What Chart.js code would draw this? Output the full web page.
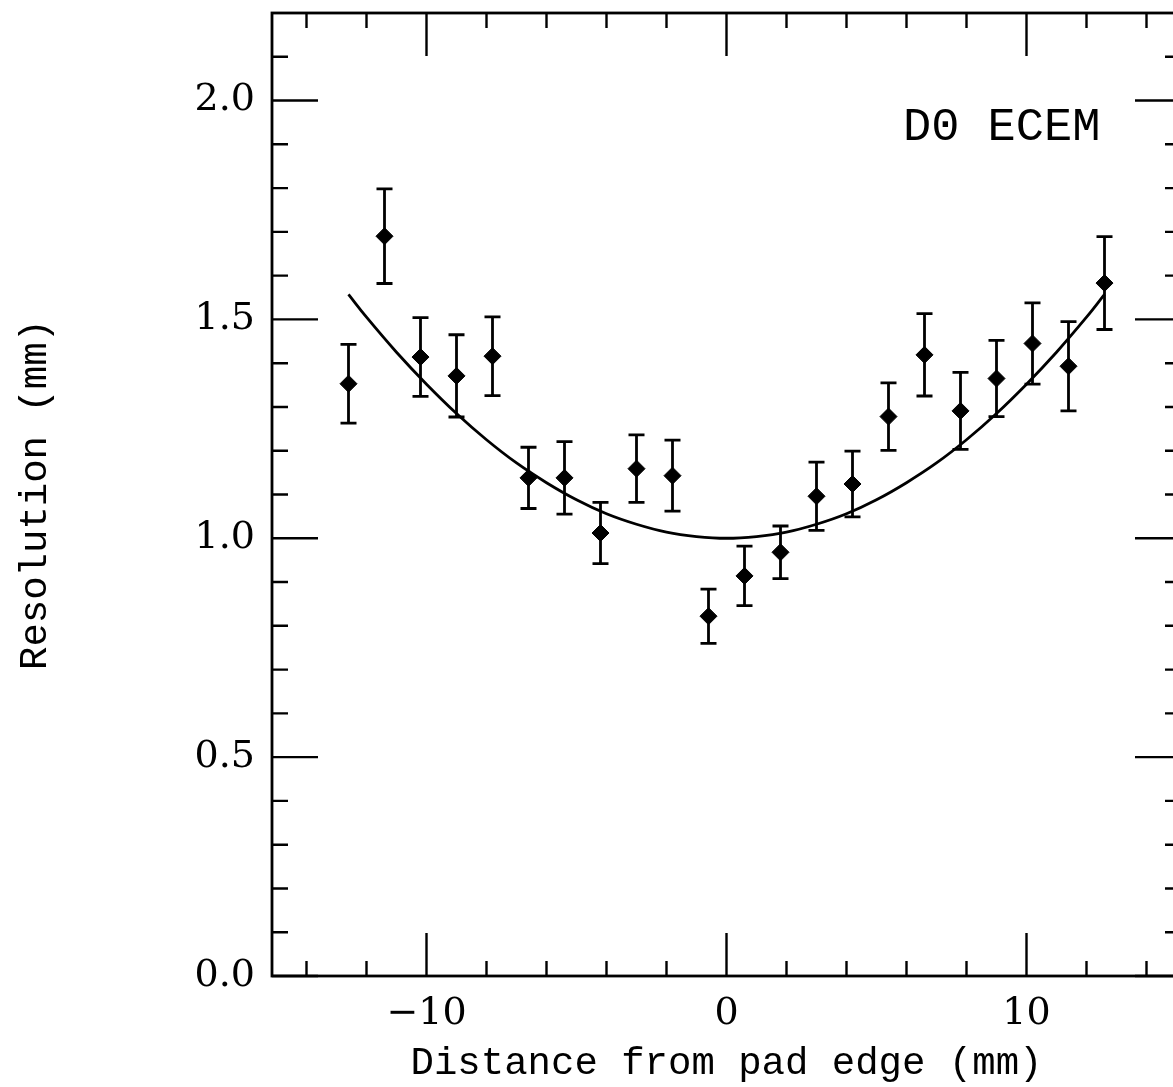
<!DOCTYPE html>
<html>
<head>
<meta charset="utf-8">
<script src="https://cdn.jsdelivr.net/npm/chart.js@4.4.0/dist/chart.umd.min.js"></script>
<style>
html,body{margin:0;padding:0;overflow:hidden;background:#fff;}
canvas{display:block;}
</style>
</head>
<body>
<canvas id="c" width="1200" height="1087"></canvas>
<script>
// ---- data ----
const distance = [-12.6,-11.4,-10.2,-9.0,-7.8,-6.6,-5.4,-4.2,-3.0,-1.8,-0.6,0.6,1.8,3.0,4.2,5.4,6.6,7.8,9.0,10.2,11.4,12.6];
const resolution = [1.353,1.690,1.414,1.371,1.416,1.138,1.138,1.012,1.159,1.143,0.822,0.914,0.968,1.096,1.124,1.278,1.419,1.291,1.365,1.445,1.393,1.583];
const resolutionErr = [0.090,0.108,0.090,0.094,0.090,0.070,0.083,0.070,0.077,0.081,0.062,0.068,0.060,0.078,0.075,0.077,0.094,0.088,0.087,0.093,0.102,0.106];

const fitX = [-12.6,-12,-11,-10,-9,-8,-7,-6,-5,-4,-3,-2,-1,0,1,2,3,4,5,6,7,8,9,10,11,12,12.6];
const fitY = [1.557,1.505,1.425,1.352,1.285,1.225,1.172,1.127,1.088,1.056,1.032,1.014,1.004,1.000,1.004,1.014,1.032,1.056,1.088,1.127,1.172,1.225,1.285,1.352,1.425,1.505,1.557];

const xMajorTicks = [-10,0,10];
const xMinorTicks = [-14,-12,-8,-6,-4,-2,2,4,6,8,12,14];
const yMajorTicks = [0.0,0.5,1.0,1.5,2.0];
const yMinorTicks = [0.1,0.2,0.3,0.4,0.6,0.7,0.8,0.9,1.1,1.2,1.3,1.4,1.6,1.7,1.8,1.9,2.1];

const xTitle = 'Distance from pad edge (mm)';
const yTitle = 'Resolution (mm)';
const labelText = 'D0 ECEM';

const xRange = [-15.15, 15.15];
const yRange = [0, 2.2];

// ---- drawing ----
const tickFont = {family: 'DejaVu Serif', size: 38};
const titleFont = {family: 'Liberation Mono', size: 39};

const decor = {
  id: 'decor',
  beforeDatasetsDraw(chart) {
    const {ctx, scales: {x, y}} = chart;
    ctx.save();
    ctx.strokeStyle = '#000';
    ctx.lineWidth = 2.8;
    for (let i = 0; i < distance.length; i++) {
      const xp = x.getPixelForValue(distance[i]);
      const y1 = y.getPixelForValue(resolution[i] - resolutionErr[i]);
      const y2 = y.getPixelForValue(resolution[i] + resolutionErr[i]);
      ctx.beginPath();
      ctx.moveTo(xp, y1); ctx.lineTo(xp, y2);
      ctx.moveTo(xp - 8, y1); ctx.lineTo(xp + 8, y1);
      ctx.moveTo(xp - 8, y2); ctx.lineTo(xp + 8, y2);
      ctx.stroke();
    }
    ctx.restore();
  },
  afterDraw(chart) {
    const {ctx, chartArea: a, scales: {x, y}} = chart;
    ctx.save();
    ctx.strokeStyle = '#000';
    ctx.lineWidth = 2.8;
    ctx.strokeRect(a.left, a.top, a.right - a.left, a.bottom - a.top);
    ctx.lineWidth = 2.4;
    ctx.beginPath();
    const xt = (vals, len) => vals.forEach(v => {
      const p = x.getPixelForValue(v);
      ctx.moveTo(p, a.bottom); ctx.lineTo(p, a.bottom - len);
      ctx.moveTo(p, a.top); ctx.lineTo(p, a.top + len);
    });
    const yt = (vals, len) => vals.forEach(v => {
      const p = y.getPixelForValue(v);
      ctx.moveTo(a.left, p); ctx.lineTo(a.left + len, p);
      ctx.moveTo(a.right, p); ctx.lineTo(a.right - len, p);
    });
    xt(xMajorTicks, 43); xt(xMinorTicks, 15);
    yt(yMajorTicks, 46); yt(yMinorTicks, 16);
    ctx.stroke();
    ctx.fillStyle = '#000';
    ctx.font = '47px "Liberation Mono"';
    ctx.textAlign = 'left';
    ctx.textBaseline = 'alphabetic';
    ctx.fillText(labelText, 903, 140);
    ctx.restore();
  }
};

new Chart(document.getElementById('c'), {
  type: 'scatter',
  data: {
    datasets: [
      {
        type: 'line',
        data: fitX.map((v, i) => ({x: v, y: fitY[i]})),
        borderColor: '#000',
        borderWidth: 2.8,
        pointRadius: 0,
        tension: 0.4,
        fill: false,
        order: 2
      },
      {
        data: distance.map((v, i) => ({x: v, y: resolution[i]})),
        pointStyle: 'rectRot',
        pointRadius: 8.5,
        backgroundColor: '#000',
        borderColor: '#000',
        borderWidth: 1,
        order: 1
      }
    ]
  },
  options: {
    responsive: false,
    animation: false,
    devicePixelRatio: 1,
    layout: {padding: {top: 13, right: 19, left: 0, bottom: 0}},
    plugins: {legend: {display: false}, tooltip: {enabled: false}},
    scales: {
      x: {
        type: 'linear',
        position: 'bottom',
        min: xRange[0], max: xRange[1],
        grid: {display: false, drawTicks: false},
        border: {display: false},
        ticks: {
          stepSize: 10, includeBounds: false, autoSkip: false, maxRotation: 0,
          font: tickFont, color: '#000', padding: 15,
          callback: v => (v < 0 ? '\u2212' + Math.abs(v) : String(v))
        },
        title: {display: true, text: xTitle, font: titleFont, color: '#000', padding: {top: 0, bottom: 0}},
        afterFit: s => { s.height = 111; s.paddingLeft = 0; s.paddingRight = 0; }
      },
      y: {
        type: 'linear',
        position: 'left',
        min: yRange[0], max: yRange[1],
        grid: {display: false, drawTicks: false},
        border: {display: false},
        ticks: {
          stepSize: 0.5, includeBounds: false, autoSkip: false,
          font: tickFont, color: '#000', padding: 17,
          callback: v => v.toFixed(1)
        },
        title: {display: true, text: yTitle, font: {family: 'Liberation Mono', size: 39}, color: '#000', padding: {top: 12, bottom: 0}},
        afterFit: s => { s.width = 272; s.paddingTop = 0; s.paddingBottom = 0; }
      }
    }
  },
  plugins: [decor]
});
</script>
</body>
</html>
